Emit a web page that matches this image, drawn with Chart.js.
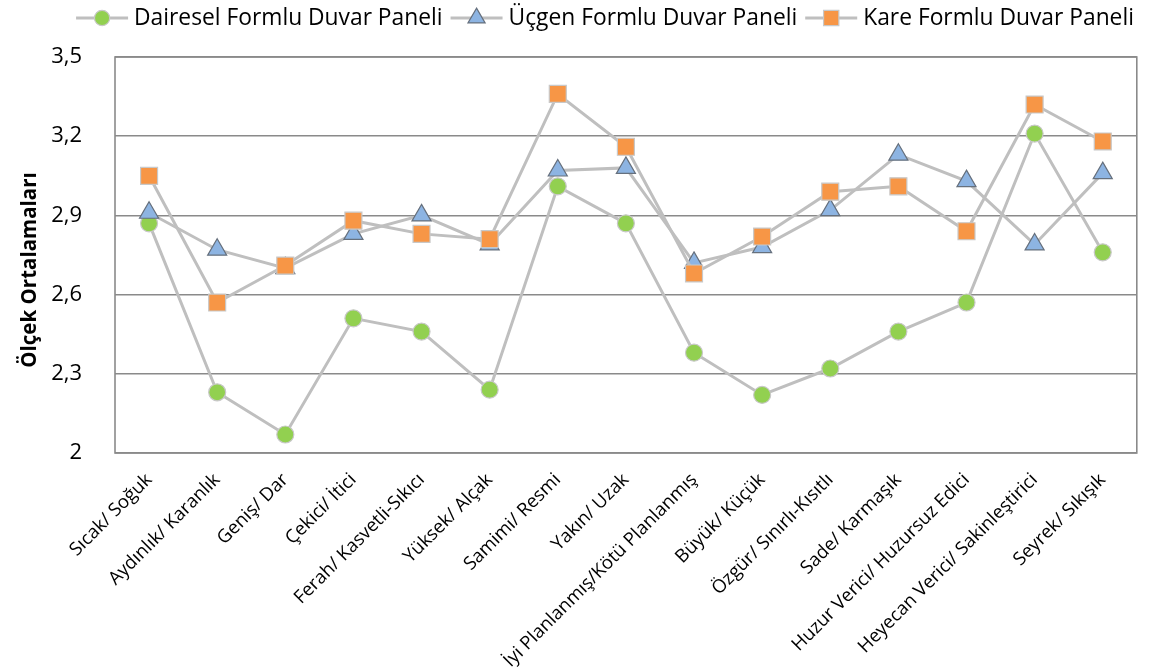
<!DOCTYPE html>
<html>
<head>
<meta charset="utf-8">
<script src="https://cdn.jsdelivr.net/npm/chart.js@4.4.0/dist/chart.umd.min.js"></script>
<style>
  html, body { margin: 0; padding: 0; background: #ffffff; }
  #wrap { width: 1150px; height: 672px; }
</style>
</head>
<body>
<div id="wrap"><canvas id="c" width="1150" height="672"></canvas></div>
<script>
// Bipolar adjective pairs rated for each wall panel type
const categories = [
  'Sıcak/ Soğuk', 'Aydınlık/ Karanlık', 'Geniş/ Dar', 'Çekici/ İtici',
  'Ferah/ Kasvetli-Sıkıcı', 'Yüksek/ Alçak', 'Samimi/ Resmi', 'Yakın/ Uzak',
  'İyi Planlanmış/Kötü Planlanmış', 'Büyük/ Küçük', 'Özgür/ Sınırlı-Kısıtlı',
  'Sade/ Karmaşık', 'Huzur Verici/ Huzursuz Edici', 'Heyecan Verici/ Sakinleştirici',
  'Seyrek/ Sıkışık'
];

const seriesNames = ['Dairesel Formlu Duvar Paneli', 'Üçgen Formlu Duvar Paneli', 'Kare Formlu Duvar Paneli'];

const daireselValues = [2.87, 2.23, 2.07, 2.51, 2.46, 2.24, 3.01, 2.87, 2.38, 2.22, 2.32, 2.46, 2.57, 3.21, 2.76];
const ucgenValues    = [2.91, 2.77, 2.70, 2.83, 2.90, 2.79, 3.07, 3.08, 2.72, 2.78, 2.92, 3.13, 3.03, 2.79, 3.06];
const kareValues     = [3.05, 2.57, 2.71, 2.88, 2.83, 2.81, 3.36, 3.16, 2.68, 2.82, 2.99, 3.01, 2.84, 3.32, 3.18];

const yMin = 2, yMax = 3.5, yStep = 0.3;
const yTitle = 'Ölçek Ortalamaları';

const FONT = '"Open Sans", "Noto Sans", sans-serif';
const LINE_GREY = '#bfbfbf';
const GRID_GREY = '#8a8a8a';

const markerStyles = [
  { pointStyle: 'circle',   radius: 8.5, fill: '#92d050', stroke: '#c8c8c8', borderWidth: 1.2 },
  { pointStyle: 'triangle', radius: 11,  fill: '#8db4e2', stroke: '#66707d', borderWidth: 1.2 },
  { pointStyle: 'rect',     radius: 12,  fill: '#f79646', stroke: '#c8c8c8', borderWidth: 1.2 }
];

function makeDataset(i, values) {
  const m = markerStyles[i];
  return {
    label: seriesNames[i],
    data: values,
    order: 2 - i,
    borderColor: LINE_GREY,
    borderWidth: 3,
    tension: 0,
    fill: false,
    pointStyle: m.pointStyle,
    pointRadius: m.radius,
    pointHoverRadius: m.radius,
    pointBackgroundColor: m.fill,
    pointBorderColor: m.stroke,
    pointBorderWidth: m.borderWidth
  };
}

// Frame around the plot area, legend row and vertical axis title
const decorations = {
  id: 'decorations',
  beforeDatasetsDraw(chart) {
    const { ctx, chartArea: a } = chart;
    ctx.save();
    ctx.strokeStyle = GRID_GREY;
    ctx.lineWidth = 1.6;
    ctx.strokeRect(a.left, a.top, a.right - a.left, a.bottom - a.top);
    ctx.restore();
  },
  afterDraw(chart) {
    const { ctx } = chart;
    ctx.save();
    // legend
    ctx.font = '22.8px ' + FONT;
    ctx.textBaseline = 'middle';
    ctx.fillStyle = '#000';
    const lineLen = 52, gapText = 6, gapItem = 8, y = 18;
    const items = chart.data.datasets.map((ds, i) => ({ ds, i, w: lineLen + gapText + ctx.measureText(ds.label).width }));
    const total = items.reduce((s, it) => s + it.w, 0) + gapItem * (items.length - 1);
    let x = 605 - total / 2;
    items.forEach(it => {
      const m = markerStyles[it.i];
      ctx.strokeStyle = LINE_GREY;
      ctx.lineWidth = 3;
      ctx.beginPath();
      ctx.moveTo(x, y);
      ctx.lineTo(x + lineLen, y);
      ctx.stroke();
      ctx.fillStyle = m.fill;
      ctx.strokeStyle = m.stroke;
      ctx.lineWidth = m.borderWidth;
      Chart.helpers.drawPoint(ctx, { pointStyle: m.pointStyle, radius: m.radius * 0.9, borderWidth: m.borderWidth, rotation: 0 }, x + lineLen / 2, y);
      ctx.fillStyle = '#000';
      ctx.textAlign = 'left';
      ctx.fillText(it.ds.label, x + lineLen + gapText, y + 1);
      x += it.w + gapItem;
    });
    // y axis title
    ctx.translate(30, 270);
    ctx.rotate(-Math.PI / 2);
    ctx.font = 'bold 20.5px ' + FONT;
    ctx.textAlign = 'center';
    ctx.fillStyle = '#000';
    ctx.fillText(yTitle, 0, 0);
    ctx.restore();
  }
};

new Chart(document.getElementById('c'), {
  type: 'line',
  data: {
    labels: categories,
    datasets: [
      makeDataset(0, daireselValues),
      makeDataset(1, ucgenValues),
      makeDataset(2, kareValues)
    ]
  },
  options: {
    responsive: false,
    animation: false,
    events: [],
    layout: { padding: { top: 57, right: 5, left: 0, bottom: 0 } },
    plugins: { legend: { display: false }, tooltip: { enabled: false } },
    scales: {
      x: {
        offset: true,
        grid: { display: false, drawTicks: false },
        border: { display: false },
        ticks: {
          autoSkip: false,
          maxRotation: 45,
          minRotation: 45,
          padding: 16,
          color: '#000',
          font: { family: FONT, size: 18.5 }
        },
        afterFit(scale) { scale.height = 219; }
      },
      y: {
        min: yMin,
        max: yMax,
        grid: { color: GRID_GREY, lineWidth: 1.6, drawTicks: false },
        border: { display: false },
        ticks: {
          stepSize: yStep,
          padding: 33,
          color: '#000',
          font: { family: FONT, size: 22 },
          callback: v => String(Math.round(v * 10) / 10).replace('.', ',')
        },
        afterFit(scale) { scale.width = 115; }
      }
    }
  },
  plugins: [decorations]
});
</script>
</body>
</html>
